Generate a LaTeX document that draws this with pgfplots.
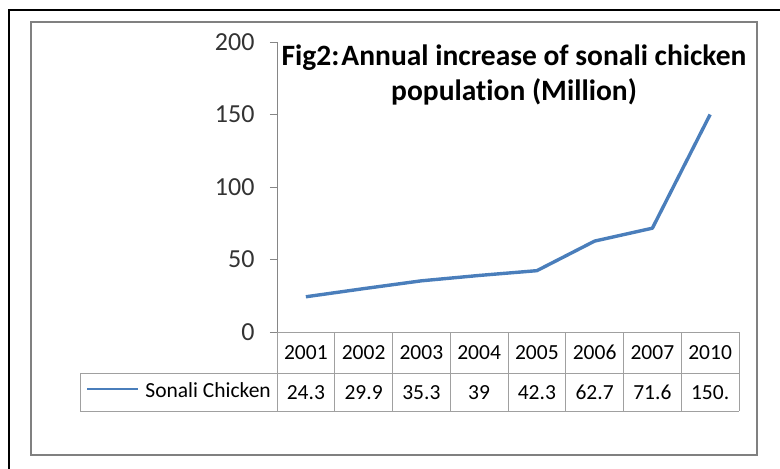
\documentclass[border=0pt]{standalone}
\usepackage{pgfplots}
\pgfplotsset{compat=1.18}
\usepackage{fontspec}
\setmainfont{Carlito}[Ligatures=NoCommon]
\definecolor{lineblue}{RGB}{74,126,187}
\definecolor{tabgray}{RGB}{160,160,160}
\definecolor{framegray}{RGB}{128,128,128}
\definecolor{axgray}{RGB}{134,134,134}
\begin{document}
\begin{tikzpicture}
\useasboundingbox (0pt,0pt) rectangle (780pt,-469pt);
\begin{scope}
\clip (0pt,0pt) rectangle (780pt,-469pt);
\draw[black, line width=2pt] (9pt,-10pt) rectangle (820pt,-520pt);
\end{scope}
\draw[framegray, line width=1.6pt] (31pt,-22pt) rectangle (757pt,-455pt);
\begin{axis}[
  at={(277pt,-332pt)}, anchor=south west,
  scale only axis, width=462pt, height=290pt,
  xmin=-0.5, xmax=7.5, ymin=0, ymax=200,
  axis x line=none, axis y line*=left,
  y axis line style={-, axgray, line width=0.8pt},
  ytick={0,50,100,150,200},
  tick align=outside, major tick length=7pt,
  ytick style={axgray, line width=0.8pt},
  /pgf/number format/assume math mode=true,
  yticklabel style={font=\fontsize{26}{26}\selectfont, text=black!80, xshift=-12pt},
  clip=false,
]
\addplot[lineblue, line width=3.4pt, mark=none, line join=round] coordinates {
  (0,24.3) (1,29.9) (2,35.3) (3,39) (4,42.3) (5,62.7) (6,71.6) (7,150)
};
\end{axis}
\begin{scope}[x=1pt, y=1pt]
% title
\node[anchor=base, font=\fontsize{29.5}{29.5}\selectfont\bfseries] at (514,-65) {Fig2:\kern2pt Annual increase of sonali chicken};
\node[anchor=base, font=\fontsize{29.5}{29.5}\selectfont\bfseries] at (514,-100) {population (Million)};
% data table
\draw[tabgray, line width=1pt] (277,-332) -- (739,-332);
\draw[tabgray, line width=1pt] (80,-373) -- (739,-373);
\draw[tabgray, line width=1pt] (80,-411) -- (739,-411);
\draw[tabgray, line width=1pt] (80,-373) -- (80,-411);
\foreach \k in {0,...,8} {
  \draw[tabgray, line width=1pt] ({277+57.75*\k},-332) -- ({277+57.75*\k},-411);
}
\foreach \yr [count=\i from 0] in {2001,2002,2003,2004,2005,2006,2007,2010} {
  \node[anchor=base, inner sep=0pt, font=\fontsize{21.5}{21.5}\selectfont] at ({277+57.75*(\i+0.5)},-359) {\yr};
}
\foreach \v [count=\i from 0] in {24.3,29.9,35.3,39,42.3,62.7,71.6,150.} {
  \node[anchor=base, inner sep=0pt, font=\fontsize{21.5}{21.5}\selectfont] at ({277+57.75*(\i+0.5)},-399) {\v};
}
\draw[lineblue, line width=1.2pt] (87,-389) -- (138,-389);
\node[anchor=base east, font=\fontsize{21.5}{21.5}\selectfont, inner sep=0pt] at (271,-397) {Sonali Chicken};
\end{scope}
\end{tikzpicture}
\end{document}
